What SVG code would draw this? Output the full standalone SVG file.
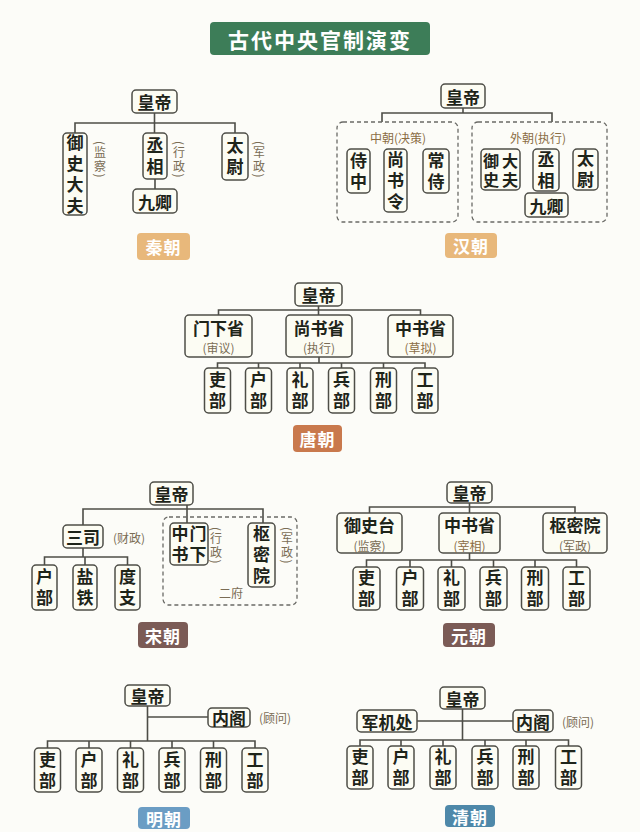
<svg xmlns="http://www.w3.org/2000/svg" width="640" height="832" viewBox="0 0 640 832">
<style>
.n{fill:#fcfcf3;stroke:#4d4d47;stroke-width:1.5}
.t{font-family:"Noto Sans CJK SC","Noto Sans",sans-serif;font-weight:700;font-size:17px;fill:#1e2419;text-anchor:middle;dominant-baseline:central}
.s{font-family:"Noto Sans CJK SC","Noto Sans",sans-serif;font-weight:400;font-size:12px;fill:#7a6c55;text-anchor:middle;dominant-baseline:central}
.v{writing-mode:vertical-rl;letter-spacing:4px}
.va{writing-mode:vertical-rl;letter-spacing:1.5px}
.c{stroke:#4d4d47;stroke-width:1.6;fill:none}
.d{fill:none;stroke:#6a6a66;stroke-width:1.3;stroke-dasharray:4 3}
.lb{font-family:"Noto Sans CJK SC","Noto Sans",sans-serif;font-weight:700;font-size:17px;fill:#ffffff;text-anchor:middle;dominant-baseline:central;letter-spacing:1px}
</style>
<rect width="640" height="832" fill="#fcfcf8"/>
<g id="title">
<rect x="210" y="22" width="220" height="33" rx="4" fill="#3d7d58"/>
<text x="320" y="38.5" class="lb" style="font-size:21px;letter-spacing:2px">古代中央官制演变</text>
</g>

<g id="connectors">
<path class="c" d="M154.5 113V133M75 133V123H235V133M155 179V189"/>
<path class="c" d="M463 108V113M382 122V113H552V122"/>
<path class="c" d="M318.5 306V315M218.5 315V310H420.5V315M319 357V363M217.5 368V363H425V368M258.5 363V368M300 363V368M341.5 363V368M383.5 363V368"/>
<path class="c" d="M187 505V523M83 525V509H263V523M83 548V557M44.5 565V557H127.5V565M85 557V565"/>
<path class="c" d="M469.5 503V513M369.5 513V507H575V513M469.5 553V560M366.5 567V560H576.5V567M410 560V567M451.5 560V567M493.5 560V567M535 560V567"/>
<path class="c" d="M147.5 706V741M147.5 717H208M47.5 748V741H255V748M89 741V748M130.5 741V748M172 741V748M213.5 741V748"/>
<path class="c" d="M462.5 709V740M417 721H513M360 746V740H568.5V746M401 740V746M443 740V746M485 740V746M526 740V746"/>
</g>

<!-- ============ Qin ============ -->
<g id="qin-emperor"><rect class="n" x="132" y="90" width="45" height="23" rx="4"/><text class="t" x="154.5" y="101.5">皇帝</text></g>
<g id="qin-yushidafu"><rect class="n" x="63" y="133" width="24" height="82" rx="4"/>
<text class="t v" x="75" y="176">御史大夫</text>
<text class="s va" x="100" y="160">(监察)</text></g>
<g id="qin-chengxiang"><rect class="n" x="143" y="133" width="24" height="46" rx="4"/>
<text class="t v" x="155" y="158">丞相</text>
<text class="s va" x="179" y="160">(行政)</text></g>
<g id="qin-jiuqing"><rect class="n" x="133" y="189" width="44" height="24" rx="4"/><text class="t" x="155" y="201">九卿</text></g>
<g id="qin-taiwei"><rect class="n" x="222" y="133" width="26" height="47" rx="4"/>
<text class="t v" x="235" y="158.5">太尉</text>
<text class="s va" x="259" y="160">(军政)</text></g>
<g id="qin-label"><rect x="137" y="233" width="53" height="27" rx="4" fill="#e8b87b"/><text class="lb" x="163.5" y="246.5">秦朝</text></g>

<!-- ============ Han ============ -->
<g id="han-emperor"><rect class="n" x="441" y="84" width="44" height="24" rx="4"/><text class="t" x="463" y="96">皇帝</text></g>
<g id="han-inner"><rect class="d" x="337" y="122" width="121" height="100" rx="6"/><text class="s" x="398" y="137" style="fill:#8b6d45">中朝(决策)</text></g>
<g id="han-shizhong"><rect class="n" x="347" y="149" width="23" height="44" rx="4"/>
<text class="t v" x="358.5" y="173">侍中</text></g>
<g id="han-shangshuling"><rect class="n" x="384" y="149" width="23" height="63" rx="4"/>
<text class="t v" x="395.5" y="182.5">尚书令</text></g>
<g id="han-changshi"><rect class="n" x="423" y="149" width="26" height="44" rx="4"/>
<text class="t v" x="436" y="173">常侍</text></g>
<g id="han-outer"><rect class="d" x="472" y="122" width="135" height="100" rx="6"/><text class="s" x="538" y="137" style="fill:#8b6d45">外朝(执行)</text></g>
<g id="han-yushidafu"><rect class="n" x="481" y="149" width="39" height="41" rx="4"/>
<text class="t v" x="491" y="171.5" style="font-size:16px;letter-spacing:3px">御史</text>
<text class="t v" x="510" y="171.5" style="font-size:16px;letter-spacing:3px">大夫</text></g>
<g id="han-chengxiang"><rect class="n" x="533" y="149" width="26" height="42" rx="4"/>
<text class="t v" x="546" y="172">丞相</text></g>
<g id="han-taiwei"><rect class="n" x="573" y="149" width="25" height="41" rx="4"/>
<text class="t v" x="585.5" y="171.5">太尉</text></g>
<g id="han-jiuqing"><rect class="n" x="525" y="193" width="43" height="24" rx="4"/><text class="t" x="546.5" y="205">九卿</text></g>
<g id="han-label"><rect x="445" y="233" width="52" height="25" rx="4" fill="#e8b87b"/><text class="lb" x="471" y="245.5">汉朝</text></g>

<!-- ============ Tang ============ -->
<g id="tang-emperor"><rect class="n" x="295" y="283" width="47" height="23" rx="4"/><text class="t" x="318.5" y="294.5">皇帝</text></g>
<g id="tang-menxia"><rect class="n" x="185" y="315" width="67" height="42" rx="4"/><text class="t" x="218.5" y="327">门下省</text><text class="s" x="218.5" y="347.5">(审议)</text></g>
<g id="tang-shangshu"><rect class="n" x="286" y="315" width="66" height="42" rx="4"/><text class="t" x="319" y="327">尚书省</text><text class="s" x="319" y="347.5">(执行)</text></g>
<g id="tang-zhongshu"><rect class="n" x="388" y="315" width="65" height="42" rx="4"/><text class="t" x="420.5" y="327">中书省</text><text class="s" x="420.5" y="347.5" style="fill:#8b6d45">(草拟)</text></g>
<g id="tang-li"><rect class="n" x="204.5" y="368" width="26" height="45" rx="4"/><text class="t v" x="217.5" y="392.5">吏部</text></g>
<g id="tang-hu"><rect class="n" x="245.5" y="368" width="26" height="45" rx="4"/><text class="t v" x="258.5" y="392.5">户部</text></g>
<g id="tang-li2"><rect class="n" x="287" y="368" width="26" height="45" rx="4"/><text class="t v" x="300" y="392.5">礼部</text></g>
<g id="tang-bing"><rect class="n" x="328.5" y="368" width="26" height="45" rx="4"/><text class="t v" x="341.5" y="392.5">兵部</text></g>
<g id="tang-xing"><rect class="n" x="370.5" y="368" width="26" height="45" rx="4"/><text class="t v" x="383.5" y="392.5">刑部</text></g>
<g id="tang-gong"><rect class="n" x="412" y="368" width="26" height="45" rx="4"/><text class="t v" x="425" y="392.5">工部</text></g>
<g id="tang-label"><rect x="293" y="425" width="49" height="27" rx="4" fill="#c9794d"/><text class="lb" x="317.5" y="438.5">唐朝</text></g>

<!-- ============ Song ============ -->
<g id="song-emperor"><rect class="n" x="150" y="482" width="43" height="23" rx="4"/><text class="t" x="171.5" y="493.5">皇帝</text></g>
<g id="song-sansi"><rect class="n" x="63" y="525" width="40" height="23" rx="4"/><text class="t" x="83" y="536.5">三司</text><text class="s" x="129" y="537">(财政)</text></g>
<g id="song-hubu"><rect class="n" x="32" y="565" width="25" height="45" rx="4"/><text class="t v" x="44.5" y="589.5">户部</text></g>
<g id="song-yantie"><rect class="n" x="73" y="565" width="24" height="45" rx="4"/><text class="t v" x="85" y="589.5">盐铁</text></g>
<g id="song-duzhi"><rect class="n" x="115" y="565" width="25" height="45" rx="4"/><text class="t v" x="127.5" y="589.5">度支</text></g>
<g id="song-erfu"><rect class="d" x="163" y="517" width="134" height="88" rx="6"/><text class="s" x="231" y="592">二府</text></g>
<g id="song-zhongshumenxia"><rect class="n" x="170" y="523" width="38" height="42" rx="4"/>
<text class="t v" x="180" y="546" style="letter-spacing:3.5px">中书</text>
<text class="t v" x="198" y="546" style="letter-spacing:3.5px">门下</text>
<text class="s va" x="216" y="546">(行政)</text></g>
<g id="song-shumiyuan"><rect class="n" x="248" y="523" width="27" height="64" rx="4"/>
<text class="t v" x="261.5" y="557">枢密院</text>
<text class="s va" x="287" y="546">(军政)</text></g>
<g id="song-label"><rect x="138" y="622" width="50" height="26" rx="4" fill="#7b5b56"/><text class="lb" x="163" y="635">宋朝</text></g>

<!-- ============ Yuan ============ -->
<g id="yuan-emperor"><rect class="n" x="447" y="482" width="45" height="21" rx="4"/><text class="t" x="469.5" y="492.5">皇帝</text></g>
<g id="yuan-yushitai"><rect class="n" x="337" y="513" width="65" height="40" rx="4"/><text class="t" x="369.5" y="524">御史台</text><text class="s" x="369.5" y="545">(监察)</text></g>
<g id="yuan-zhongshu"><rect class="n" x="439" y="513" width="61" height="40" rx="4"/><text class="t" x="469.5" y="524">中书省</text><text class="s" x="469.5" y="545" style="fill:#8b6d45">(宰相)</text></g>
<g id="yuan-shumiyuan"><rect class="n" x="543" y="513" width="64" height="40" rx="4"/><text class="t" x="575" y="524">枢密院</text><text class="s" x="575" y="545">(军政)</text></g>
<g id="yuan-li"><rect class="n" x="353" y="567" width="27" height="43" rx="4"/><text class="t v" x="366.5" y="590.5">吏部</text></g>
<g id="yuan-hu"><rect class="n" x="396.5" y="567" width="27" height="43" rx="4"/><text class="t v" x="410" y="590.5">户部</text></g>
<g id="yuan-li2"><rect class="n" x="438" y="567" width="27" height="43" rx="4"/><text class="t v" x="451.5" y="590.5">礼部</text></g>
<g id="yuan-bing"><rect class="n" x="480" y="567" width="27" height="43" rx="4"/><text class="t v" x="493.5" y="590.5">兵部</text></g>
<g id="yuan-xing"><rect class="n" x="521.5" y="567" width="27" height="43" rx="4"/><text class="t v" x="535" y="590.5">刑部</text></g>
<g id="yuan-gong"><rect class="n" x="563" y="567" width="27" height="43" rx="4"/><text class="t v" x="576.5" y="590.5">工部</text></g>
<g id="yuan-label"><rect x="443" y="623" width="52" height="24" rx="4" fill="#7b5b56"/><text class="lb" x="469" y="635">元朝</text></g>

<!-- ============ Ming ============ -->
<g id="ming-emperor"><rect class="n" x="125" y="685" width="45" height="21" rx="4"/><text class="t" x="147.5" y="695.5">皇帝</text></g>
<g id="ming-neige"><rect class="n" x="208" y="708" width="42" height="19" rx="4"/><text class="t" x="229" y="717.5">内阁</text><text class="s" x="275" y="717.5">(顾问)</text></g>
<g id="ming-li"><rect class="n" x="34.5" y="748" width="26" height="44" rx="4"/><text class="t v" x="47.5" y="772">吏部</text></g>
<g id="ming-hu"><rect class="n" x="76" y="748" width="26" height="44" rx="4"/><text class="t v" x="89" y="772">户部</text></g>
<g id="ming-li2"><rect class="n" x="117.5" y="748" width="26" height="44" rx="4"/><text class="t v" x="130.5" y="772">礼部</text></g>
<g id="ming-bing"><rect class="n" x="159" y="748" width="26" height="44" rx="4"/><text class="t v" x="172" y="772">兵部</text></g>
<g id="ming-xing"><rect class="n" x="200.5" y="748" width="26" height="44" rx="4"/><text class="t v" x="213.5" y="772">刑部</text></g>
<g id="ming-gong"><rect class="n" x="242" y="748" width="26" height="44" rx="4"/><text class="t v" x="255" y="772">工部</text></g>
<g id="ming-label"><rect x="138" y="807" width="52" height="22" rx="4" fill="#6b9dc4"/><text class="lb" x="164" y="818">明朝</text></g>

<!-- ============ Qing ============ -->
<g id="qing-emperor"><rect class="n" x="440" y="687" width="45" height="22" rx="4"/><text class="t" x="462.5" y="698">皇帝</text></g>
<g id="qing-junjichu"><rect class="n" x="357" y="710" width="60" height="22" rx="4"/><text class="t" x="387" y="721">军机处</text></g>
<g id="qing-neige"><rect class="n" x="513" y="710" width="40" height="22" rx="4"/><text class="t" x="533" y="721">内阁</text><text class="s" x="578" y="721">(顾问)</text></g>
<g id="qing-li"><rect class="n" x="347" y="746" width="26" height="43" rx="4"/><text class="t v" x="360" y="769.5">吏部</text></g>
<g id="qing-hu"><rect class="n" x="388" y="746" width="26" height="43" rx="4"/><text class="t v" x="401" y="769.5">户部</text></g>
<g id="qing-li2"><rect class="n" x="430" y="746" width="26" height="43" rx="4"/><text class="t v" x="443" y="769.5">礼部</text></g>
<g id="qing-bing"><rect class="n" x="472" y="746" width="26" height="43" rx="4"/><text class="t v" x="485" y="769.5">兵部</text></g>
<g id="qing-xing"><rect class="n" x="513" y="746" width="26" height="43" rx="4"/><text class="t v" x="526" y="769.5">刑部</text></g>
<g id="qing-gong"><rect class="n" x="555.5" y="746" width="26" height="43" rx="4"/><text class="t v" x="568.5" y="769.5">工部</text></g>
<g id="qing-label"><rect x="445" y="805" width="50" height="22" rx="4" fill="#4e88a9"/><text class="lb" x="470" y="816">清朝</text></g>
</svg>
